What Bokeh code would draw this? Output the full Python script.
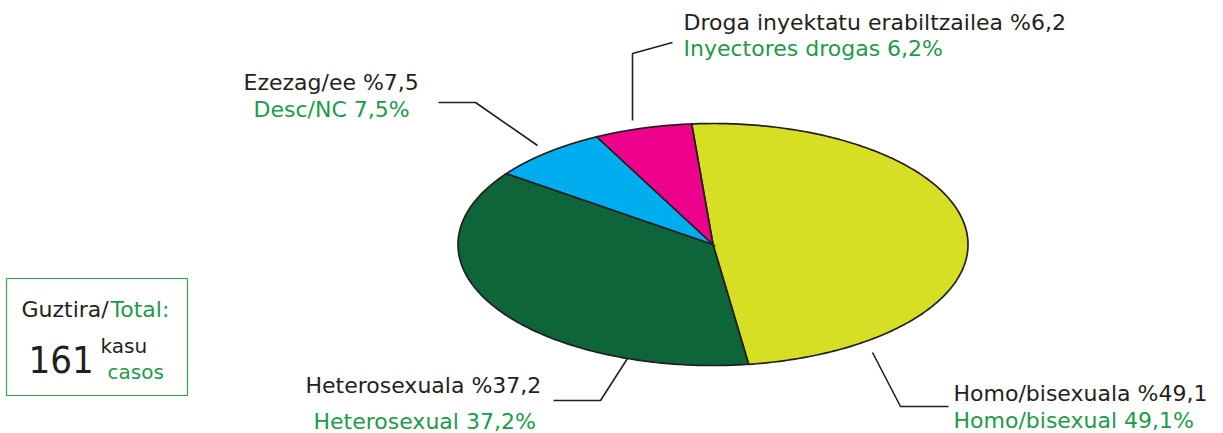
import numpy as np
from bokeh.plotting import figure
from bokeh.models import Range1d
from bokeh.core.properties import value
from bokeh.embed import file_html
from bokeh.resources import INLINE

# data
categories = ["Homo/bisexual", "Heterosexual", "Desc/NC", "Inyectores drogas"]
shares = [49.1, 37.2, 7.5, 6.2]
colors = ["#D6DF23", "#0F653A", "#00AEEF", "#EC008C"]
labels_eu = ["Homo/bisexuala %49,1", "Heterosexuala %37,2", "Ezezag/ee %7,5",
             "Droga inyektatu erabiltzailea %6,2"]
labels_es = ["Homo/bisexual 49,1%", "Heterosexual 37,2%", "Desc/NC 7,5%",
             "Inyectores drogas 6,2%"]
total_cases = 161

FONT = "DejaVu Sans"
DARK = "#231F20"
GREEN_TXT = "#1E9A4A"

W, H = 1223, 433
p = figure(width=W, height=H, output_backend="svg", toolbar_location=None,
           x_range=Range1d(0, W), y_range=Range1d(H, 0),
           min_border=0, outline_line_color=None)
p.axis.visible = False
p.grid.visible = False

# elliptical pie (clockwise from top)
cx, cy, rx, ry = 712.5, 244.0, 255.0, 121.0
start = np.deg2rad(94.8)
cum = np.concatenate([[0], np.cumsum(shares)]) / sum(shares) * 2 * np.pi
xs, ys = [], []
for i in range(len(shares)):
    a0 = start - cum[i]
    a1 = start - cum[i + 1]
    t = np.linspace(a0, a1, 200)
    xs.append(np.concatenate([[cx], cx + rx * np.cos(t), [cx]]).tolist())
    ys.append(np.concatenate([[cy], cy - ry * np.sin(t), [cy]]).tolist())
p.patches(xs=xs, ys=ys, fill_color=colors, line_color=DARK, line_width=1.7,
          line_join="miter")

# leader lines
leaders = [
    ([948, 900, 872], [406, 406, 352]),
    ([553, 600, 627], [400, 400, 358]),
    ([438, 475, 537], [102, 102, 145]),
    ([672, 632, 632], [42, 53, 120]),
]
for lx, ly in leaders:
    p.line(lx, ly, line_color=DARK, line_width=1.6)

# labels (alphabetic baseline, shifted to match rendering)
eu_pos = [(953, 393), (305, 385), (243, 82), (683, 22)]
es_pos = [(953, 420), (313, 421), (253, 109), (683, 48)]
p.text(x=[q[0] for q in eu_pos], y=[q[1] for q in eu_pos], text=labels_eu,
       text_font=value(FONT), text_font_size="22px", text_color=DARK,
       text_baseline="alphabetic")
p.text(x=[q[0] for q in es_pos], y=[q[1] for q in es_pos], text=labels_es,
       text_font=value(FONT), text_font_size="22px", text_color=GREEN_TXT,
       text_baseline="alphabetic")

# total box
p.quad(left=[6], right=[187], top=[278], bottom=[395], fill_color=None,
       line_color="#2BA84A", line_width=1.2)
p.text(x=[21], y=[321], text=["Guztira/"], text_font=value(FONT),
       text_font_size="22px", text_color=DARK)
p.text(x=[110], y=[321], text=["Total:"], text_font=value(FONT),
       text_font_size="22px", text_color=GREEN_TXT)
p.text(x=[28], y=[372], text=[str(total_cases)],
       text_font=value("DejaVu Sans Condensed"),
       text_font_size="38px", text_color=DARK)
p.text(x=[100], y=[357], text=["kasu"], text_font=value(FONT),
       text_font_size="20px", text_color=DARK)
p.text(x=[107], y=[383], text=["casos"], text_font=value(FONT),
       text_font_size="20px", text_color=GREEN_TXT)

open("out.html", "w").write(file_html(p, INLINE))
